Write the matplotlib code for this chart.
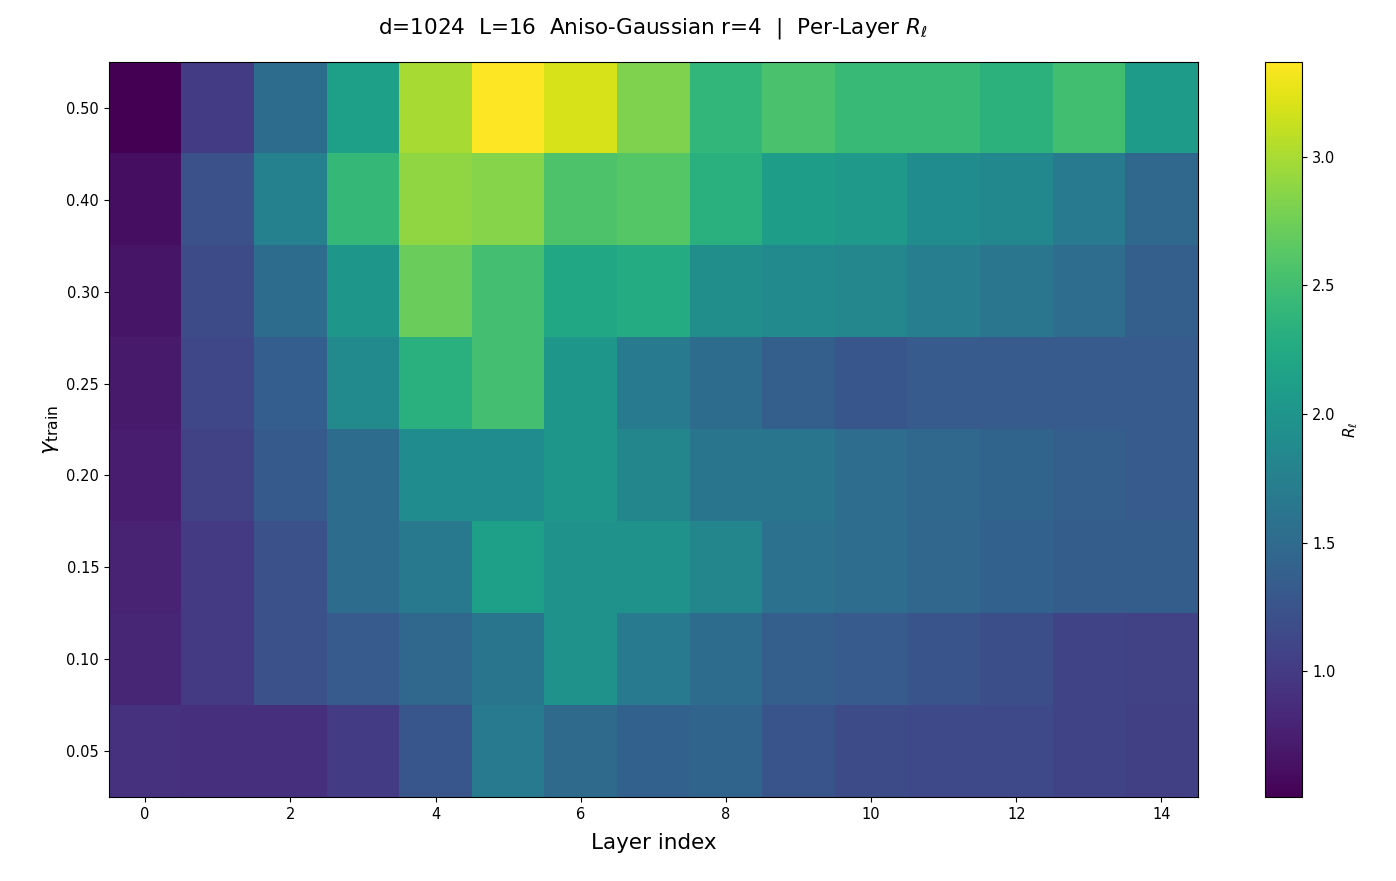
import numpy as np
import matplotlib
matplotlib.use('Agg')
import matplotlib.pyplot as plt

layers = list(range(15))
gammas = [0.05, 0.10, 0.15, 0.20, 0.25, 0.30, 0.40, 0.50]

# rows bottom (gamma=0.05) to top (gamma=0.50)
r_005 = [0.92, 0.90, 0.90, 1.02, 1.27, 1.68, 1.50, 1.40, 1.43, 1.25, 1.18, 1.14, 1.14, 1.10, 1.05]
r_010 = [0.82, 1.00, 1.22, 1.33, 1.48, 1.62, 1.98, 1.68, 1.52, 1.38, 1.33, 1.25, 1.20, 1.10, 1.07]
r_015 = [0.80, 1.00, 1.22, 1.52, 1.67, 2.12, 1.97, 1.97, 1.82, 1.58, 1.53, 1.45, 1.40, 1.35, 1.35]
r_020 = [0.74, 1.07, 1.32, 1.52, 1.90, 1.90, 2.02, 1.82, 1.62, 1.62, 1.53, 1.48, 1.43, 1.38, 1.33]
r_025 = [0.72, 1.12, 1.37, 1.87, 2.32, 2.52, 2.02, 1.68, 1.52, 1.38, 1.28, 1.33, 1.33, 1.33, 1.33]
r_030 = [0.67, 1.17, 1.52, 2.02, 2.72, 2.52, 2.22, 2.27, 1.92, 1.88, 1.83, 1.73, 1.63, 1.53, 1.38]
r_040 = [0.62, 1.22, 1.77, 2.42, 2.90, 2.85, 2.57, 2.62, 2.33, 2.10, 2.05, 1.90, 1.85, 1.70, 1.48]
r_050 = [0.51, 1.02, 1.52, 2.12, 3.00, 3.37, 3.20, 2.82, 2.40, 2.55, 2.45, 2.45, 2.35, 2.50, 2.08]

R = np.array([r_005, r_010, r_015, r_020, r_025, r_030, r_040, r_050])

fig, ax = plt.subplots(figsize=(13.96, 8.81), dpi=100)
im = ax.imshow(R, origin='lower', aspect='auto', cmap='viridis',
               extent=(-0.5, len(layers) - 0.5, -0.5, len(gammas) - 0.5))
ax.set_xticks(layers[::2])
ax.set_yticks(range(len(gammas)))
ax.set_yticklabels([f"{g:.2f}" for g in gammas])
ax.tick_params(labelsize=10.5)
ax.set_xlabel('Layer index', fontsize=15.5, labelpad=8)
ax.set_ylabel(r'$\gamma_{\mathrm{train}}$', fontsize=16)
ax.set_title(r'd=1024  L=16  Aniso-Gaussian r=4  |  Per-Layer $R_\ell$', fontsize=15.5, pad=20)
cax = fig.add_axes([0.906, 0.095, 0.027, 0.835])
cb = fig.colorbar(im, cax=cax)
cb.set_label(r'$R_\ell$', fontsize=11)
cb.ax.tick_params(labelsize=10.5)
plt.subplots_adjust(left=0.078, right=0.858, top=0.93, bottom=0.095)
fig.savefig('out.png', dpi=100)
